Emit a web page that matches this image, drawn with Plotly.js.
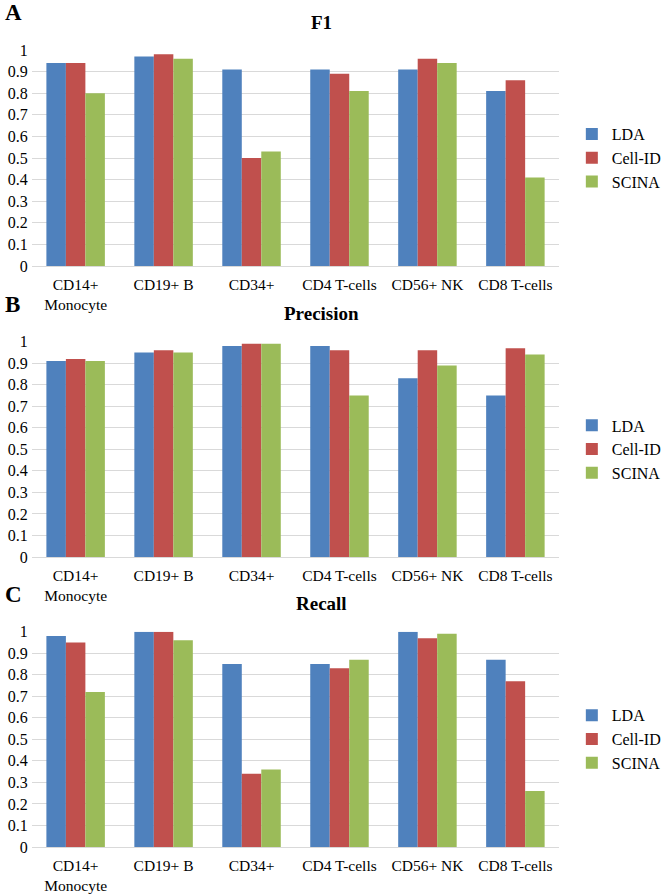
<!DOCTYPE html>
<html><head><meta charset="utf-8">
<script src="https://cdn.plot.ly/plotly-3.0.1.min.js"></script>
<style>body{margin:0;background:#fff}#c{width:666px;height:894px}</style>
</head><body><div id="c"></div>
<script>
const categories = ["CD14+<br>Monocyte","CD19+ B","CD34+","CD4 T-cells","CD56+ NK","CD8 T-cells"];
const methods = ["LDA","Cell-ID","SCINA"];
const colors = ["#4F81BD","#C0504D","#9BBB59"];
const panelTitles = ["F1","Precision","Recall"];
const panelLetters = ["A","B","C"];

const f1_LDA    = [0.94,0.97,0.91,0.91,0.91,0.81];
const f1_CellID = [0.94,0.98,0.50,0.89,0.96,0.86];
const f1_SCINA  = [0.80,0.96,0.53,0.81,0.94,0.41];

const prec_LDA    = [0.91,0.95,0.98,0.98,0.83,0.75];
const prec_CellID = [0.92,0.96,0.99,0.96,0.96,0.97];
const prec_SCINA  = [0.91,0.95,0.99,0.75,0.89,0.94];

const rec_LDA    = [0.98,1.00,0.85,0.85,1.00,0.87];
const rec_CellID = [0.95,1.00,0.34,0.83,0.97,0.77];
const rec_SCINA  = [0.72,0.96,0.36,0.87,0.99,0.26];

const panels = [
  [f1_LDA,f1_CellID,f1_SCINA],
  [prec_LDA,prec_CellID,prec_SCINA],
  [rec_LDA,rec_CellID,rec_SCINA]
];

const W=666,H=894;
const pix = [[50,266],[341.7,557],[631.7,847]];
const xL=33, xR=583;
const FAM = "Liberation Serif";
const f = s => ({family:FAM,color:"#000",size:s});

const traces=[];
const layout = {
  width:W,height:H,margin:{l:0,r:0,t:0,b:0},
  paper_bgcolor:"#fff",plot_bgcolor:"#fff",
  barmode:"group",bargap:0.335,bargroupgap:0,
  font:f(16),
  annotations:[],showlegend:true
};
panels.forEach((series,p)=>{
  const sfx = p===0?"":String(p+1);
  const legName = "legend"+sfx;
  series.forEach((vals,m)=>{
    traces.push({type:"bar",x:categories,y:vals,name:methods[m],
      marker:{color:colors[m]},xaxis:"x"+sfx,yaxis:"y"+sfx,legend:legName,hoverinfo:"skip"});
  });
  const d0 = 1-pix[p][1]/H, d1 = 1-pix[p][0]/H;
  layout["xaxis"+sfx] = {domain:[xL/W,xR/W],anchor:"y"+sfx,showgrid:false,showline:false,
    zeroline:false,ticks:"",tickfont:f(15.5),ticklabelstandoff:7,fixedrange:true};
  layout["yaxis"+sfx] = {domain:[d0,d1],anchor:"x"+sfx,range:[0,1],dtick:0.1,tick0:0,
    showgrid:true,gridcolor:"#D9D9D9",gridwidth:1,zeroline:true,zerolinecolor:"#D9D9D9",zerolinewidth:1,
    showline:false,ticks:"",tickfont:f(16),ticklabelstandoff:3,fixedrange:true};
  const ly = 1-((pix[p][0]+pix[p][1])/2)/H;
  layout[legName] = {x:596/W,y:ly,xanchor:"left",yanchor:"middle",xref:"paper",yref:"paper",
    font:f(16),bgcolor:"rgba(0,0,0,0)",tracegroupgap:0,itemwidth:30};
  layout.annotations.push({text:"<b>"+panelTitles[p]+"</b>",xref:"paper",yref:"paper",
    x:335/W,y:1-(pix[p][0]-28)/H,xanchor:"center",yanchor:"middle",showarrow:false,
    font:f(19)});
  layout.annotations.push({text:"<b>"+panelLetters[p]+"</b>",xref:"paper",yref:"paper",
    x:3/W,y:1-(pix[p][0]-37)/H,xanchor:"left",yanchor:"middle",showarrow:false,
    font:f(23)});
});
Plotly.newPlot("c",traces,layout,{displayModeBar:false,staticPlot:true});
</script></body></html>
